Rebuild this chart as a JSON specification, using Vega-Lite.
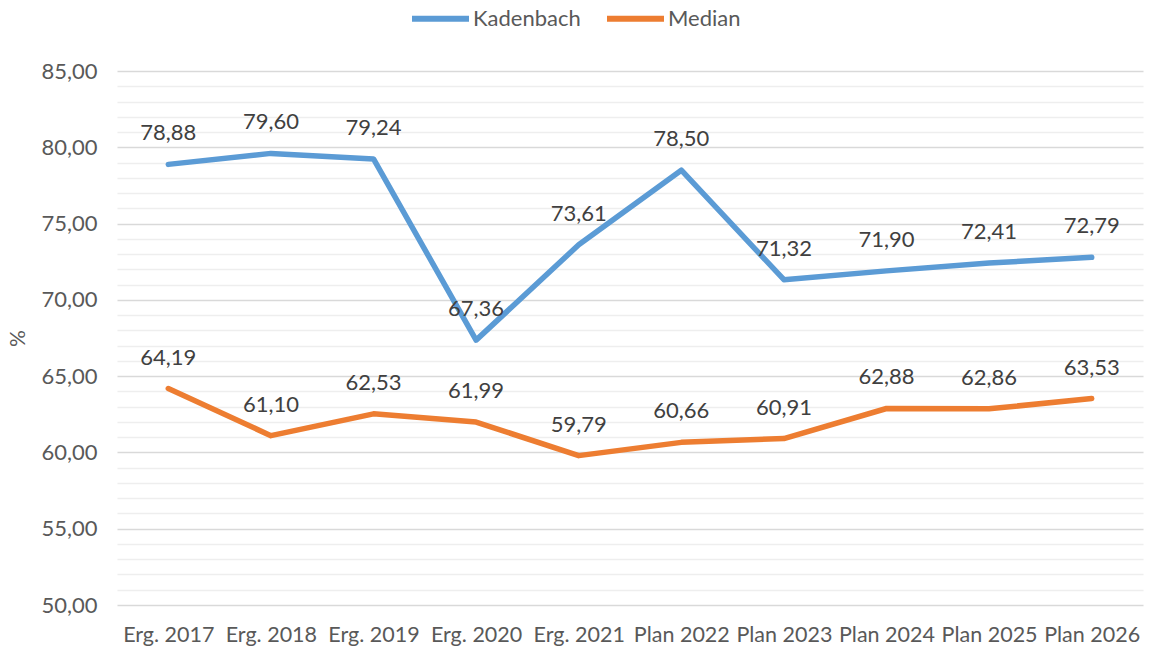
{
  "$schema": "https://vega.github.io/schema/vega-lite/v6.json",
  "autosize": {"type": "none"},
  "width": 1026,
  "height": 534,
  "padding": {"left": 117, "top": 71, "right": 7, "bottom": 45},
  "background": "white",
  "config": {
    "view": {"stroke": null},
    "font": "Lato"
  },
  "data": {
    "values": [
      {"jahr": "Erg. 2017", "serie": "Kadenbach", "wert": 78.88},
      {"jahr": "Erg. 2018", "serie": "Kadenbach", "wert": 79.60},
      {"jahr": "Erg. 2019", "serie": "Kadenbach", "wert": 79.24},
      {"jahr": "Erg. 2020", "serie": "Kadenbach", "wert": 67.36},
      {"jahr": "Erg. 2021", "serie": "Kadenbach", "wert": 73.61},
      {"jahr": "Plan 2022", "serie": "Kadenbach", "wert": 78.50},
      {"jahr": "Plan 2023", "serie": "Kadenbach", "wert": 71.32},
      {"jahr": "Plan 2024", "serie": "Kadenbach", "wert": 71.90},
      {"jahr": "Plan 2025", "serie": "Kadenbach", "wert": 72.41},
      {"jahr": "Plan 2026", "serie": "Kadenbach", "wert": 72.79},
      {"jahr": "Erg. 2017", "serie": "Median", "wert": 64.19},
      {"jahr": "Erg. 2018", "serie": "Median", "wert": 61.10},
      {"jahr": "Erg. 2019", "serie": "Median", "wert": 62.53},
      {"jahr": "Erg. 2020", "serie": "Median", "wert": 61.99},
      {"jahr": "Erg. 2021", "serie": "Median", "wert": 59.79},
      {"jahr": "Plan 2022", "serie": "Median", "wert": 60.66},
      {"jahr": "Plan 2023", "serie": "Median", "wert": 60.91},
      {"jahr": "Plan 2024", "serie": "Median", "wert": 62.88},
      {"jahr": "Plan 2025", "serie": "Median", "wert": 62.86},
      {"jahr": "Plan 2026", "serie": "Median", "wert": 63.53}
    ]
  },
  "encoding": {
    "x": {
      "field": "jahr", "type": "ordinal", "sort": null,
      "scale": {"type": "point", "padding": 0.5},
      "axis": {
        "title": null, "labelAngle": 0, "domain": false, "ticks": false, "grid": false,
        "labelFont": "Lato", "labelFontSize": 21.5, "labelColor": "#595959", "labelPadding": 19
      }
    },
    "y": {
      "field": "wert", "type": "quantitative",
      "scale": {"domain": [50, 85], "nice": false, "zero": false},
      "axis": {
        "title": "%", "titleFont": "Lato", "titleFontSize": 21, "titleFontWeight": "normal", "titleColor": "#595959",
        "titleX": -99, "titleY": 267, "titleAngle": -90, "titleAlign": "center", "titleBaseline": "middle",
        "values": [50,51,52,53,54,55,56,57,58,59,60,61,62,63,64,65,66,67,68,69,70,71,72,73,74,75,76,77,78,79,80,81,82,83,84,85],
        "labelExpr": "datum.value % 5 === 0 ? replace(format(datum.value, '.2f'), '.', ',') : ''",
        "labelFont": "Lato", "labelFontSize": 22, "labelColor": "#595959", "labelPadding": 20,
        "domain": false, "ticks": false,
        "gridColor": {"condition": {"test": "datum.value % 5 === 0", "value": "#d9d9d9"}, "value": "#eeeeee"},
        "gridWidth": 1.3
      }
    }
  },
  "layer": [
    {
      "mark": {"type": "line", "strokeWidth": 5.5, "strokeCap": "round", "strokeJoin": "round"},
      "encoding": {
        "color": {
          "field": "serie", "type": "nominal",
          "scale": {"domain": ["Kadenbach", "Median"], "range": ["#5b9bd5", "#ed7d31"]},
          "legend": {
            "title": null, "orient": "none", "direction": "horizontal",
            "legendX": 292, "legendY": -84,
            "symbolType": "stroke", "symbolSize": 3249, "symbolStrokeWidth": 6,
            "labelFont": "Lato", "labelFontSize": 22, "labelColor": "#595959",
            "labelOffset": 1, "columnPadding": 14
          }
        }
      }
    },
    {
      "transform": [
        {"calculate": "replace(format(datum.wert, '.2f'), '.', ',')", "as": "beschriftung"}
      ],
      "mark": {"type": "text", "dy": -31, "fontSize": 22, "font": "Lato", "color": "#404040", "baseline": "middle"},
      "encoding": {
        "text": {"field": "beschriftung", "type": "nominal"},
        "detail": {"field": "serie", "type": "nominal"}
      }
    }
  ]
}
